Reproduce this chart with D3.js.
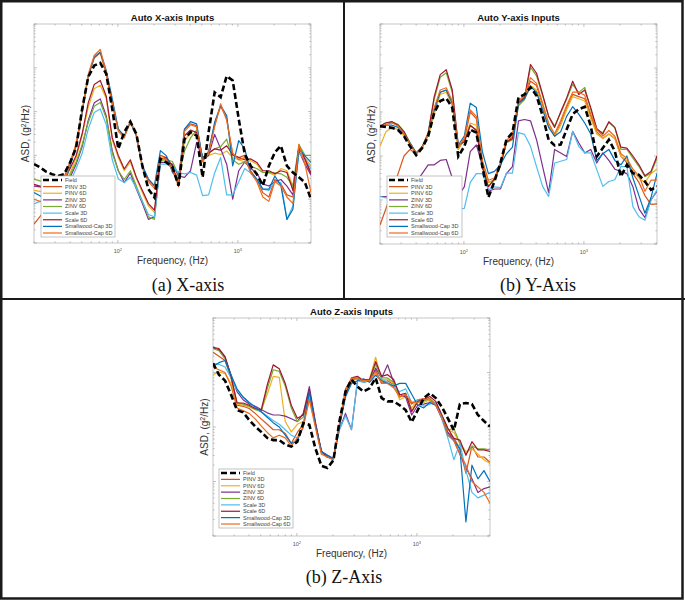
<!DOCTYPE html>
<html><head><meta charset="utf-8">
<script src="https://cdn.jsdelivr.net/npm/d3@7"></script>
<style>body{margin:0;background:#fff}svg{display:block}</style>
</head><body>
<svg id="c" width="685" height="602"></svg>
<script>
// Frequencies (Hz), 1/6-octave points
const freqs = [20,22.4,25.2,28.3,31.7,35.6,40,44.9,50.4,56.6,63.5,71.3,80,89.8,100.8,113,127,142.5,160,179.6,201.6,226,254,285,320,359,403,453,508,570,640,718,806,905,1016,1140,1280,1437,1613,1810,2032,2281,2560,2874,3225,3620,4064];
const seriesNames = ["Field","PINV 3D","PINV 6D","ZINV 3D","ZINV 6D","Scale 3D","Scale 6D","Smallwood-Cap 3D","Smallwood-Cap 6D"];
const seriesColors = ["#000000","#D95319","#EDB120","#7E2F8E","#77AC30","#4DBEEE","#A2142F","#0072BD","#EE6A1F"];
const xTickValues = [100,1000];
const xTickLabels = ["2","3"]; // exponents of 10

// ---- X-axis inputs: log10 of ASD (g^2/Hz) ----
const xField = [-3.20,-3.27,-3.37,-3.43,-3.47,-3.43,-3.16,-2.82,-1.94,-1.21,-0.95,-0.89,-1.14,-1.94,-2.85,-2.47,-2.23,-2.51,-3.24,-3.77,-3.96,-3.08,-3.16,-3.27,-3.69,-2.63,-2.47,-2.55,-3.50,-2.47,-1.56,-1.67,-1.19,-1.29,-2.17,-2.97,-3.24,-3.43,-3.69,-3.24,-2.93,-2.78,-3.24,-3.39,-3.50,-3.62,-4.00];
const xPinv3 = [-4.57,-4.40,-4.20,-4.00,-3.80,-3.50,-3.15,-2.75,-2.00,-1.20,-0.78,-0.66,-1.15,-1.85,-2.40,-2.58,-2.25,-2.55,-3.25,-3.55,-3.70,-3.00,-3.05,-3.30,-3.55,-2.40,-2.28,-2.32,-3.10,-2.90,-2.30,-1.88,-2.15,-3.00,-3.05,-3.00,-3.35,-3.55,-3.85,-3.95,-3.55,-3.65,-3.90,-3.95,-2.80,-3.10,-3.45];
const xPinv6 = [-3.80,-3.82,-3.85,-3.85,-3.80,-3.65,-3.40,-3.05,-2.55,-1.90,-1.48,-1.40,-1.70,-2.65,-3.05,-3.35,-3.15,-3.52,-3.85,-4.15,-4.30,-3.10,-3.08,-3.28,-3.72,-2.65,-2.50,-2.55,-3.10,-3.00,-2.95,-2.98,-2.90,-3.05,-3.10,-3.15,-3.12,-3.20,-3.38,-3.40,-3.45,-3.30,-3.35,-3.70,-2.85,-3.05,-3.25];
const xZinv3 = [-3.70,-3.72,-3.75,-3.78,-3.80,-3.70,-3.50,-3.20,-2.80,-2.20,-1.80,-1.71,-2.10,-2.90,-3.35,-3.62,-3.40,-3.77,-4.10,-4.46,-4.40,-3.16,-3.16,-3.20,-3.47,-3.50,-3.35,-2.70,-3.10,-3.00,-2.52,-2.85,-3.20,-4.00,-3.35,-3.15,-3.30,-3.40,-3.65,-3.70,-3.60,-3.55,-3.70,-3.90,-2.90,-3.20,-3.45];
const xZinv6 = [-3.54,-3.58,-3.62,-3.65,-3.65,-3.60,-3.45,-3.15,-2.75,-2.25,-1.88,-1.79,-2.15,-2.95,-3.35,-3.55,-3.35,-3.70,-4.05,-4.40,-4.46,-3.12,-3.10,-3.14,-3.45,-2.90,-2.60,-2.42,-3.05,-2.95,-2.85,-2.80,-2.63,-3.10,-3.20,-3.15,-3.25,-3.30,-3.39,-3.39,-3.40,-3.42,-3.50,-3.70,-2.75,-3.00,-3.00];
const xScale3 = [-4.11,-4.05,-4.00,-3.95,-3.90,-3.80,-3.60,-3.30,-2.95,-2.40,-2.02,-1.94,-2.30,-3.10,-3.54,-3.62,-3.50,-3.75,-4.05,-4.35,-4.40,-3.20,-3.20,-3.25,-3.39,-3.42,-3.39,-3.45,-3.92,-3.90,-3.40,-3.05,-3.90,-3.90,-3.60,-3.30,-3.40,-3.55,-3.77,-3.80,-3.60,-3.62,-4.46,-4.15,-2.95,-3.10,-3.30];
const xScale6 = [-3.66,-3.70,-3.75,-3.75,-3.70,-3.55,-3.30,-3.00,-2.50,-1.80,-1.38,-1.29,-1.65,-2.60,-3.00,-3.31,-3.10,-3.50,-3.80,-4.10,-4.25,-3.08,-3.05,-3.24,-3.70,-2.55,-2.42,-2.48,-3.05,-2.95,-2.85,-2.88,-2.78,-2.98,-3.05,-3.10,-3.08,-3.16,-3.35,-3.35,-3.42,-3.35,-3.39,-3.80,-2.80,-3.08,-3.40];
const xSwc3 = [-3.85,-3.92,-4.00,-4.00,-3.92,-3.69,-3.24,-2.78,-2.02,-1.18,-0.76,-0.64,-1.06,-1.71,-2.40,-2.55,-2.24,-2.55,-3.24,-3.54,-3.69,-2.89,-3.01,-3.39,-3.54,-2.40,-2.23,-2.28,-3.08,-2.93,-2.24,-1.86,-2.09,-3.24,-2.66,-2.85,-3.39,-3.54,-3.77,-3.77,-3.47,-3.69,-4.46,-4.23,-2.85,-3.01,-3.16];
const xSwc6 = [-4.00,-4.05,-4.10,-4.05,-3.90,-3.60,-3.20,-2.72,-1.98,-1.15,-0.72,-0.58,-1.10,-1.80,-2.45,-2.60,-2.20,-2.52,-3.30,-3.60,-3.75,-3.05,-3.10,-3.35,-3.60,-2.45,-2.30,-2.35,-3.15,-2.95,-2.35,-1.82,-2.20,-2.95,-3.10,-3.05,-3.40,-3.60,-3.95,-4.05,-3.60,-3.70,-3.95,-4.10,-2.75,-3.20,-3.85];

// ---- Y-axis inputs ----
const yField = [-2.32,-2.34,-2.36,-2.41,-2.55,-2.78,-2.98,-2.82,-2.55,-2.02,-1.75,-1.69,-1.90,-3.01,-2.78,-2.40,-2.47,-3.24,-3.94,-3.58,-3.16,-2.63,-2.47,-1.67,-1.60,-1.44,-1.63,-2.09,-2.63,-2.76,-2.74,-2.40,-2.05,-1.94,-1.88,-2.32,-3.01,-2.82,-2.63,-2.89,-3.47,-3.20,-3.39,-3.43,-3.58,-3.77,-3.69];
const yPinv3 = [-4.57,-4.20,-3.80,-3.40,-3.00,-2.85,-2.95,-2.80,-2.52,-1.95,-1.55,-1.50,-1.80,-2.85,-2.62,-2.00,-2.15,-3.15,-3.60,-3.55,-3.20,-2.70,-2.55,-1.80,-1.65,-1.30,-1.40,-1.85,-2.30,-2.55,-2.25,-1.90,-1.60,-1.65,-1.70,-2.10,-2.45,-2.60,-2.50,-2.60,-3.00,-3.15,-3.40,-3.60,-3.90,-4.10,-4.09];
const yPinv6 = [-2.78,-2.45,-2.35,-2.40,-2.55,-2.75,-2.95,-2.80,-2.55,-2.05,-1.60,-1.55,-1.85,-2.85,-2.60,-2.25,-2.30,-3.20,-3.60,-3.55,-3.20,-2.70,-2.60,-1.85,-1.72,-1.40,-1.50,-1.90,-2.30,-2.55,-2.30,-1.95,-1.65,-1.70,-1.75,-2.15,-2.50,-2.60,-2.50,-2.60,-3.00,-3.10,-3.35,-3.50,-3.60,-3.40,-3.30];
const yZinv3 = [-3.92,-3.92,-3.95,-4.00,-4.00,-3.80,-3.60,-3.40,-3.20,-3.20,-3.10,-3.08,-3.50,-3.90,-3.70,-2.90,-2.75,-3.20,-3.80,-3.75,-3.75,-3.40,-3.24,-2.20,-2.17,-2.20,-2.63,-3.24,-3.83,-2.85,-2.93,-3.01,-2.44,-2.70,-2.93,-2.85,-3.16,-2.93,-3.10,-3.30,-3.35,-3.40,-3.70,-4.20,-4.40,-4.00,-3.80];
const yZinv6 = [-2.32,-2.24,-2.23,-2.28,-2.44,-2.70,-2.93,-2.78,-2.47,-1.71,-1.21,-1.11,-1.56,-2.78,-2.66,-2.32,-2.40,-3.24,-3.69,-3.54,-3.24,-2.70,-2.63,-1.86,-1.71,-0.98,-1.18,-1.63,-2.09,-2.32,-2.02,-1.71,-1.37,-1.56,-1.44,-1.94,-2.40,-2.47,-2.24,-2.36,-2.85,-2.85,-3.05,-3.24,-3.47,-3.39,-3.05];
const yScale3 = [-3.92,-3.95,-4.00,-4.05,-4.10,-4.10,-4.10,-4.10,-4.10,-4.10,-4.10,-4.10,-4.15,-4.20,-4.19,-3.60,-3.40,-3.40,-3.77,-3.70,-3.72,-3.39,-3.39,-2.47,-2.51,-2.78,-3.24,-3.69,-3.92,-3.16,-3.12,-3.08,-2.44,-2.78,-2.93,-2.93,-3.31,-3.69,-3.58,-3.54,-3.24,-3.24,-4.15,-4.38,-4.46,-4.00,-3.77];
const yScale6 = [-2.32,-2.25,-2.22,-2.30,-2.45,-2.72,-2.95,-2.80,-2.48,-1.65,-1.15,-1.04,-1.50,-2.75,-2.68,-2.30,-2.42,-3.26,-3.70,-3.52,-3.22,-2.68,-2.60,-1.80,-1.68,-0.92,-1.12,-1.60,-2.10,-2.35,-2.00,-1.68,-1.30,-1.60,-1.50,-1.90,-2.38,-2.50,-2.22,-2.35,-2.80,-2.82,-3.00,-3.20,-3.45,-3.35,-3.00];
const ySwc3 = [-2.34,-2.30,-2.30,-2.35,-2.50,-2.70,-2.93,-2.80,-2.50,-1.95,-1.55,-1.50,-1.80,-2.75,-2.55,-1.80,-1.90,-2.90,-3.40,-3.35,-3.20,-2.95,-2.80,-1.80,-1.70,-1.42,-1.55,-1.95,-2.35,-2.55,-2.45,-2.10,-1.88,-2.05,-2.25,-2.50,-3.10,-2.95,-2.85,-3.10,-3.20,-3.00,-3.50,-3.90,-4.30,-3.95,-3.40];
const ySwc6 = [-2.36,-2.28,-2.25,-2.32,-2.50,-2.72,-2.95,-2.80,-2.50,-1.90,-1.50,-1.45,-1.75,-2.80,-2.60,-1.95,-2.10,-3.10,-3.55,-3.50,-3.15,-2.65,-2.50,-1.75,-1.62,-1.22,-1.35,-1.80,-2.25,-2.50,-2.20,-1.85,-1.55,-1.55,-1.62,-2.05,-2.40,-2.55,-2.42,-2.55,-2.95,-3.05,-3.30,-3.45,-3.80,-3.55,-3.55];

// ---- Z-axis inputs ----
const zField = [-0.83,-1.04,-1.15,-1.41,-1.69,-1.73,-1.87,-1.99,-2.09,-2.20,-2.24,-2.24,-2.32,-2.36,-2.27,-1.93,-1.96,-2.39,-2.71,-2.75,-2.61,-1.90,-1.35,-1.13,-1.26,-1.35,-1.29,-1.10,-1.47,-1.53,-1.53,-1.60,-1.69,-1.91,-1.69,-1.47,-1.38,-1.47,-1.63,-1.84,-2.06,-1.58,-1.56,-1.58,-1.78,-1.89,-1.99];
const zPinv3 = [-0.63,-0.70,-0.78,-1.10,-1.60,-1.62,-1.66,-1.75,-1.85,-1.95,-2.05,-2.05,-2.12,-2.30,-2.10,-1.95,-1.45,-1.95,-2.45,-2.55,-2.60,-1.95,-1.30,-1.12,-1.10,-1.15,-1.15,-0.95,-1.20,-1.15,-1.22,-1.45,-1.42,-1.58,-1.50,-1.48,-1.52,-1.58,-1.82,-2.10,-2.20,-2.40,-2.85,-2.35,-2.55,-2.55,-2.65];
const zPinv6 = [-1.04,-0.99,-1.02,-1.20,-1.58,-1.60,-1.63,-1.68,-1.70,-1.40,-1.07,-1.09,-1.90,-2.09,-1.95,-1.90,-1.50,-1.95,-2.45,-2.55,-2.58,-2.00,-1.35,-1.15,-1.12,-1.15,-1.12,-0.72,-1.15,-1.12,-1.20,-1.50,-1.45,-1.65,-1.50,-1.55,-1.50,-1.55,-1.78,-2.05,-2.10,-2.30,-2.45,-2.40,-2.50,-2.60,-2.67];
const zZinv3 = [-0.55,-0.58,-0.72,-1.05,-1.35,-1.50,-1.58,-1.62,-1.68,-1.74,-1.78,-1.78,-1.80,-1.85,-1.90,-1.75,-1.26,-1.90,-2.45,-2.52,-2.58,-2.05,-1.75,-2.05,-1.15,-1.12,-1.15,-0.92,-1.10,-0.86,-1.18,-1.40,-1.45,-1.78,-1.60,-1.58,-1.55,-1.60,-1.85,-2.10,-2.25,-2.50,-2.75,-2.95,-3.20,-3.13,-3.10];
const zZinv6 = [-0.56,-0.60,-0.75,-1.10,-1.55,-1.58,-1.62,-1.68,-1.72,-1.30,-0.95,-0.98,-1.25,-1.65,-1.90,-1.82,-1.40,-1.95,-2.45,-2.55,-2.58,-1.98,-1.42,-1.15,-1.10,-1.18,-1.15,-0.85,-1.10,-1.10,-1.18,-1.45,-1.40,-1.70,-1.55,-1.52,-1.48,-1.58,-1.80,-2.05,-2.03,-2.30,-2.50,-2.35,-2.40,-2.40,-2.42];
const zScale3 = [-0.83,-0.85,-0.90,-1.10,-1.32,-1.45,-1.55,-1.65,-1.72,-1.80,-1.88,-1.95,-2.05,-2.15,-2.20,-2.00,-1.40,-1.95,-2.48,-2.55,-2.60,-2.05,-1.80,-2.05,-1.15,-1.18,-1.15,-1.05,-1.12,-1.18,-1.25,-1.35,-1.30,-1.55,-1.50,-1.62,-1.58,-1.55,-1.85,-2.20,-2.60,-2.30,-2.80,-3.20,-3.30,-3.25,-3.20];
const zScale6 = [-0.54,-0.56,-0.71,-1.07,-1.56,-1.56,-1.60,-1.66,-1.69,-1.23,-0.86,-0.93,-1.20,-1.60,-1.84,-1.78,-1.32,-1.93,-2.44,-2.55,-2.58,-1.96,-1.41,-1.10,-1.07,-1.15,-1.13,-0.80,-1.07,-1.04,-1.13,-1.41,-1.38,-1.72,-1.53,-1.50,-1.44,-1.53,-1.78,-2.02,-2.21,-2.24,-2.52,-2.27,-2.42,-2.42,-2.45];
const zSwc3 = [-0.89,-0.82,-0.78,-1.05,-1.30,-1.45,-1.55,-1.63,-1.72,-1.82,-1.92,-2.00,-2.15,-2.30,-2.25,-2.00,-1.35,-1.95,-2.45,-2.52,-2.58,-2.00,-1.45,-1.20,-1.15,-1.12,-1.18,-1.05,-1.15,-1.20,-1.25,-1.20,-1.20,-1.40,-1.60,-1.65,-1.55,-1.60,-1.80,-2.15,-2.25,-2.40,-3.74,-2.70,-2.95,-2.80,-3.00];
const zSwc6 = [-0.90,-0.95,-1.00,-1.25,-1.65,-1.70,-1.75,-1.85,-1.98,-2.10,-2.20,-2.15,-2.20,-2.35,-2.20,-2.00,-1.50,-2.00,-2.50,-2.55,-2.60,-1.95,-1.35,-1.10,-1.12,-1.15,-1.15,-1.00,-1.20,-1.20,-1.28,-1.45,-1.40,-1.55,-1.55,-1.50,-1.48,-1.60,-1.82,-2.15,-2.25,-2.50,-2.70,-3.00,-3.10,-3.20,-3.40];

const panels = [
  {title:"Auto X-axis Inputs", caption:"(a) X-axis", box:[34,24,311,243], yExp:[-5,0], leg:[41,176,115,237], capX:188, capY:291,
   data:[xField,xPinv3,xPinv6,xZinv3,xZinv6,xScale3,xScale6,xSwc3,xSwc6]},
  {title:"Auto Y-axis Inputs", caption:"(b) Y-Axis", box:[380,24,657,244], yExp:[-5,0], leg:[387,176,462,237], capX:538, capY:291,
   data:[yField,yPinv3,yPinv6,yZinv3,yZinv6,yScale3,yScale6,ySwc3,ySwc6]},
  {title:"Auto Z-axis Inputs", caption:"(b) Z-Axis", box:[213,318,490,536], yExp:[-4,0], leg:[219,469,293,528], capX:344, capY:583,
   data:[zField,zPinv3,zPinv6,zZinv3,zZinv6,zScale3,zScale6,zSwc3,zSwc6]}
];

const svg = d3.select("#c");
svg.append("rect").attr("width",685).attr("height",602).attr("fill","#fff");

panels.forEach(p => {
  const [x0,y0,x1,y1] = p.box;
  const x = d3.scaleLog().domain([freqs[0], freqs[freqs.length-1]]).range([x0,x1]);
  const y = d3.scaleLog().domain([Math.pow(10,p.yExp[0]), Math.pow(10,p.yExp[1])]).range([y1,y0]);
  const g = svg.append("g");
  const cx = (x0+x1)/2;

  // axes box
  g.append("rect").attr("x",x0).attr("y",y0).attr("width",x1-x0).attr("height",y1-y0)
    .attr("fill","#fff").attr("stroke","#b8b8b8").attr("stroke-width",0.8);

  // x ticks (inside, bottom and top)
  const xt = x.ticks();
  xt.forEach(t => {
    const major = Math.abs(Math.log10(t) - Math.round(Math.log10(t))) < 1e-9;
    const L = major ? 3 : 1.6;
    const px = x(t);
    g.append("line").attr("x1",px).attr("x2",px).attr("y1",y1).attr("y2",y1-L).attr("stroke","#999").attr("stroke-width",0.6);
    g.append("line").attr("x1",px).attr("x2",px).attr("y1",y0).attr("y2",y0+L).attr("stroke","#999").attr("stroke-width",0.6);
  });
  // y ticks (inside, left and right)
  const yt = y.ticks();
  yt.forEach(t => {
    const major = Math.abs(Math.log10(t) - Math.round(Math.log10(t))) < 1e-9;
    const L = major ? 3 : 1.6;
    const py = y(t);
    g.append("line").attr("x1",x0).attr("x2",x0+L).attr("y1",py).attr("y2",py).attr("stroke","#999").attr("stroke-width",0.6);
    g.append("line").attr("x1",x1).attr("x2",x1-L).attr("y1",py).attr("y2",py).attr("stroke","#999").attr("stroke-width",0.6);
  });
  // x tick labels 10^n
  xTickValues.forEach((v,i) => {
    const t = g.append("text").attr("x",x(v)).attr("y",y1+10).attr("text-anchor","middle")
      .attr("font-family","Liberation Sans, Arial, sans-serif").attr("font-size",5.5).attr("fill","#555");
    t.append("tspan").text("10");
    t.append("tspan").attr("dy",-2.5).attr("font-size",4).text(xTickLabels[i]);
  });

  // series lines
  const line = d3.line().x((d,i)=>x(freqs[i])).y(d=>y(Math.pow(10,d)));
  const clipId = "clip"+x0+"_"+y0;
  svg.append("clipPath").attr("id",clipId).append("rect").attr("x",x0).attr("y",y0).attr("width",x1-x0).attr("height",y1-y0);
  const lg = g.append("g").attr("clip-path",`url(#${clipId})`);
  for (let s = 1; s < p.data.length; s++) {
    lg.append("path").attr("d",line(p.data[s])).attr("fill","none")
      .attr("stroke",seriesColors[s]).attr("stroke-width",1.2).attr("stroke-linejoin","round");
  }
  lg.append("path").attr("d",line(p.data[0])).attr("fill","none")
    .attr("stroke","#000").attr("stroke-width",2.6).attr("stroke-dasharray","6,3");

  // title
  g.append("text").attr("x",cx).attr("y",y0-3).attr("text-anchor","middle")
    .attr("font-family","Liberation Sans, Arial, sans-serif").attr("font-weight","bold").attr("font-size",9.5).attr("fill","#111").text(p.title);
  // x label
  g.append("text").attr("x",cx).attr("y",y1+21).attr("text-anchor","middle")
    .attr("font-family","Liberation Sans, Arial, sans-serif").attr("font-size",10).attr("fill","#333").text("Frequency, (Hz)");
  // y label
  const yl = g.append("text").attr("transform",`translate(${x0-5},${(y0+y1)/2}) rotate(-90)`).attr("text-anchor","middle")
    .attr("font-family","Liberation Sans, Arial, sans-serif").attr("font-size",10).attr("fill","#333");
  yl.append("tspan").text("ASD, (g");
  yl.append("tspan").attr("dy",-3.5).attr("font-size",7).text("2");
  yl.append("tspan").attr("dy",3.5).text("/Hz)");

  // legend
  const [lx0,ly0,lx1,ly1] = p.leg;
  g.append("rect").attr("x",lx0).attr("y",ly0).attr("width",lx1-lx0).attr("height",ly1-ly0)
    .attr("fill","#fff").attr("stroke","#aaa").attr("stroke-width",0.7);
  const rowH = (ly1-ly0-8)/(seriesNames.length-1);
  seriesNames.forEach((nm,i) => {
    const ry = ly0+4+i*rowH;
    g.append("line").attr("x1",lx0+2).attr("x2",lx0+21).attr("y1",ry).attr("y2",ry)
      .attr("stroke",seriesColors[i]).attr("stroke-width",i===0?2.6:1.2).attr("stroke-dasharray",i===0?"6,3":null);
    g.append("text").attr("x",lx0+24).attr("y",ry+1.9).attr("font-family","Liberation Sans, Arial, sans-serif")
      .attr("font-size",5.5).attr("fill","#444").text(nm);
  });

  // caption
  g.append("text").attr("x",p.capX).attr("y",p.capY).attr("text-anchor","middle")
    .attr("font-family","Liberation Serif, Times New Roman, serif").attr("font-size",18).attr("fill","#111").text(p.caption);
});

// panel frames
svg.append("rect").attr("x",1.25).attr("y",1.25).attr("width",681.25).attr("height",597.25)
  .attr("fill","none").attr("stroke","#1a1a1a").attr("stroke-width",2.5);
svg.append("line").attr("x1",344).attr("x2",344).attr("y1",0).attr("y2",299).attr("stroke","#1a1a1a").attr("stroke-width",2);
svg.append("line").attr("x1",0).attr("x2",685).attr("y1",299).attr("y2",299).attr("stroke","#1a1a1a").attr("stroke-width",2);
</script>
</body></html>
